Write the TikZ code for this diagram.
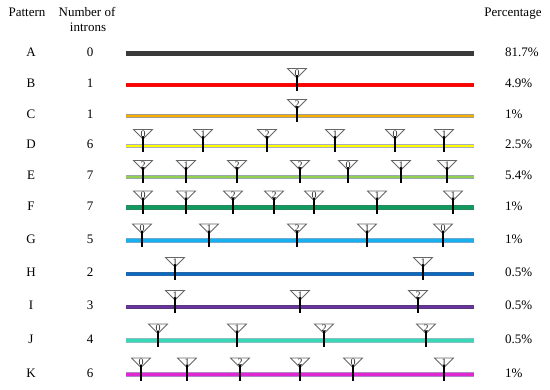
\documentclass[tikz,border=0pt]{standalone}
\usepackage{fontspec}
\setmainfont{Liberation Serif}
\usepackage{xcolor}
\definecolor{barA}{HTML}{3A3A3A}
\definecolor{barB}{HTML}{FF0000}
\definecolor{barC}{HTML}{F5B000}
\definecolor{barD}{HTML}{FFFF00}
\definecolor{barE}{HTML}{92D050}
\definecolor{barF}{HTML}{109A5E}
\definecolor{barG}{HTML}{18B0EC}
\definecolor{barH}{HTML}{0A6CBE}
\definecolor{barI}{HTML}{6A34A0}
\definecolor{barJ}{HTML}{38D8B4}
\definecolor{barK}{HTML}{E028D0}
\definecolor{edgeA}{HTML}{3A3A3A}
\definecolor{edgeB}{HTML}{F01010}
\definecolor{edgeC}{HTML}{A09A90}
\definecolor{edgeD}{HTML}{A8AEBC}
\definecolor{edgeE}{HTML}{98A8B0}
\definecolor{edgeF}{HTML}{2A8860}
\definecolor{edgeG}{HTML}{70A8D0}
\definecolor{edgeH}{HTML}{2A64A8}
\definecolor{edgeI}{HTML}{58387C}
\definecolor{edgeJ}{HTML}{88BCC4}
\definecolor{edgeK}{HTML}{B088C8}

\begin{document}
\begin{tikzpicture}[x=1pt, y=-1pt,
    lbl/.style={font=\fontsize{13}{15}\selectfont, text height=9pt, text depth=3pt, inner sep=0pt},
    tri/.style={draw=black!60, line width=0.8pt, fill=white},
    stem/.style={line width=1.8pt, black},
    digit/.style={font=\fontsize{10}{11}\selectfont, text=black!85, inner sep=0pt}]
    \useasboundingbox (0,0) rectangle (550,390);

    \node[lbl] (pattern) at (27,14) {Pattern};
    \node[lbl] (number) at (87,14) {Number of};
    \node[lbl] (introns) at (88,29) {introns};
    \node[lbl] (percentage) at (513,14) {Percentage};

    \foreach \name/\y/\n/\pct in {A/53.5/0/81.7\%, B/85/1/4.9\%, C/116/1/1\%, D/146/6/2.5\%,
        E/177/7/5.4\%, F/207.5/7/1\%, G/240.5/5/1\%, H/274/2/0.5\%, I/307/3/0.5\%,
        J/340.5/4/0.5\%, K/374.5/6/1\%} {
        \node[lbl] (pat\name) at (31,\y) {\name};
        \node[lbl] (num\name) at (90,\y) {\n};
        \coordinate (s\name) at (126,\y);
        \coordinate (e\name) at (474,\y);
        \draw[line width=4.4pt, edge\name] (s\name) -- (e\name);
        \draw[line width=2.6pt, bar\name] (s\name) -- (e\name);
        \node[lbl, anchor=west] (pct\name) at (505,\y) {\pct};
    }

    \foreach \name/\y/\marks in {B/85/{297/0}, C/116/{297/2},
        D/146/{143/0, 203/1, 267/2, 335/1, 395/0, 444/1},
        E/177/{143/2, 186/1, 237/2, 300/2, 348/0, 401/1, 447/1},
        F/207.5/{143/0, 186/1, 233/2, 274/2, 314/0, 377/1, 453/1},
        G/240.5/{142/0, 209/1, 297/2, 367/1, 443/0},
        H/274/{175/1, 423/1},
        I/307/{175/1, 300/1, 418/2},
        J/340.5/{158/0, 237/1, 324/2, 426/2},
        K/374.5/{141/0, 187/1, 240/2, 300/2, 353/0, 444/1}} {
        \foreach \mx/\ml [count=\i] in \marks {
            \draw[tri] (\mx-9.5,\y-16.5) -- (\mx+9.5,\y-16.5) -- (\mx,\y-7) -- cycle;
            \draw[stem] (\mx,\y-9.5) -- (\mx,\y+6.5);
            \node[digit] (m\name\i) at (\mx,\y-12) {\ml};
        }
    }
\end{tikzpicture}
\end{document}
